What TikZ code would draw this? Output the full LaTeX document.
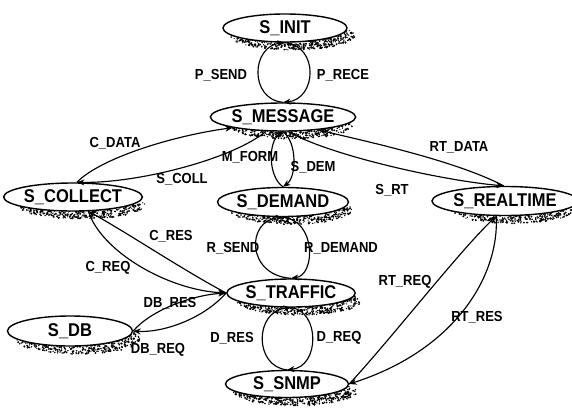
\documentclass[tikz,border=0pt]{standalone}
\usepackage{fontspec}
\usepackage{graphicx}
\setmainfont{Liberation Sans}
\usetikzlibrary{arrows.meta,shapes.geometric}

% slightly tall lettering
\newcommand\tallbox[1]{\scalebox{1}[1.12]{#1}}

\tikzset{
  state/.style={ellipse, draw, line width=1.4pt, fill=white, inner sep=0pt,
    font=\fontsize{16.5}{18}\selectfont\bfseries},
  lbl/.style={font=\fontsize{13}{14}\selectfont\bfseries, inner sep=0pt},
  arr/.style={line width=1.15pt, -{Stealth[length=7.5pt,width=6pt]}},
}

% grainy drop shadow: centre x, centre y, x radius, y radius
\newcommand\grainshadow[4]{%
  \foreach \k in {1,...,900}{%
    \pgfmathsetmacro\ang{360*rnd}%
    \pgfmathsetmacro\rr{sqrt(rnd)}%
    \pgfmathsetmacro\dr{0.6+0.5*rnd}%
    \fill[black] ({#1+8+\rr*#3*cos(\ang)},{#2+8+\rr*#4*sin(\ang)}) circle[radius=\dr];
  }%
}

\begin{document}
\begin{tikzpicture}[x=1pt,y=-1pt]
\useasboundingbox (0,0) rectangle (572,412);
\pgfmathsetseed{7}

% shadows
\grainshadow{285}{28}{62}{14}
\grainshadow{283}{117}{61.5}{14}
\grainshadow{73}{197}{63.5}{14}
\grainshadow{283}{202}{60.5}{14.5}
\grainshadow{505}{201}{61.5}{14.5}
\grainshadow{291}{293}{62}{14}
\grainshadow{70}{331}{62.5}{15}
\grainshadow{287}{384}{61.5}{13.5}

% states
\node[state, minimum width=124pt, minimum height=28pt] (init)     at (285,28)  {\tallbox{S\_INIT}};
\node[state, minimum width=123pt, minimum height=28pt] (msg)      at (283,117) {\tallbox{S\_MESSAGE}};
\node[state, minimum width=127pt, minimum height=28pt] (collect)  at (73,197)  {\tallbox{S\_COLLECT}};
\node[state, minimum width=121pt, minimum height=29pt] (demand)   at (283,202) {\tallbox{S\_DEMAND}};
\node[state, minimum width=123pt, minimum height=29pt] (realtime) at (505,201) {\tallbox{S\_REALTIME}};
\node[state, minimum width=124pt, minimum height=28pt] (traffic)  at (291,293) {\tallbox{S\_TRAFFIC}};
\node[state, minimum width=125pt, minimum height=30pt] (db)       at (70,331)  {\tallbox{S\_DB}};
\node[state, minimum width=123pt, minimum height=27pt] (snmp)     at (287,384) {\tallbox{S\_SNMP}};

% S_INIT <-> S_MESSAGE
\draw[arr] (init.south) .. controls +(34,3) and +(34,-3) .. (msg.north);
\draw[arr] (msg.north) .. controls +(-34,-3) and +(-34,3) .. (init.south);

% S_MESSAGE <-> S_DEMAND
\draw[arr] (msg.south) .. controls +(14,10) and +(14,-10) .. (demand.north);
\draw[arr] (demand.north) .. controls +(-15,-10) and +(-15,10) .. (msg.south);

% S_DEMAND <-> S_TRAFFIC
\draw[arr] (demand.south) .. controls +(33,3) and +(25,-3) .. (traffic.north);
\draw[arr] (traffic.north) .. controls +(-45,-3) and +(-37,3) .. (demand.south);

% S_TRAFFIC <-> S_SNMP
\draw[arr] (traffic.south) .. controls +(29,3) and +(33,-3) .. (snmp.north);
\draw[arr] (snmp.north) .. controls +(-33,-3) and +(-37,3) .. (traffic.south);

% S_MESSAGE <-> S_COLLECT
\draw[arr] (msg.220) .. controls +(-32,27) and +(63,1) .. (collect.75);
\draw[arr] (collect.75) .. controls +(23,-24) and +(-60,8) .. (msg.192);

% S_MESSAGE <-> S_REALTIME
\draw[arr] (msg.290) .. controls +(42,24) and +(-60,-5) .. (realtime.95);
\draw[arr] (realtime.95) .. controls +(-50,-26) and +(45,11) .. (msg.340);

% S_COLLECT <-> S_TRAFFIC
\draw[arr] (collect.317) .. controls +(13,40) and +(-59,-3) .. (traffic.west);
\draw[arr] (traffic.west) .. controls +(-45,-24) and +(40,22) .. (collect.317);

% S_TRAFFIC <-> S_DB
\draw[arr] (db.east) .. controls +(18,-21) and +(-34,2) .. (traffic.west);
\draw[arr] (traffic.west) .. controls +(-24,27) and +(28,2) .. (db.east);

% S_REALTIME <-> S_SNMP
\draw[arr] (realtime.240) .. controls +(3,60) and +(106,-34) .. (snmp.east);
\draw[arr] (snmp.east) .. controls +(41,-44) and +(-37,35) .. (realtime.240);

% transition labels
\node[lbl] (lpsend)   at (221,75)  {\tallbox{P\_SEND}};
\node[lbl] (lprece)   at (343,75)  {\tallbox{P\_RECE}};
\node[lbl] (lcdata)   at (115,143) {\tallbox{C\_DATA}};
\node[lbl] (lscoll)   at (182,179) {\tallbox{S\_COLL}};
\node[lbl] (lmform)   at (250,157) {\tallbox{M\_FORM}};
\node[lbl] (lsdem)    at (313,167) {\tallbox{S\_DEM}};
\node[lbl] (lrtdata)  at (459,147) {\tallbox{RT\_DATA}};
\node[lbl] (lsrt)     at (392,190) {\tallbox{S\_RT}};
\node[lbl] (lcres)    at (171,236) {\tallbox{C\_RES}};
\node[lbl] (lcreq)    at (108,268) {\tallbox{C\_REQ}};
\node[lbl] (lrsend)   at (233,248) {\tallbox{R\_SEND}};
\node[lbl] (lrdemand) at (341,248) {\tallbox{R\_DEMAND}};
\node[lbl] (ldbres)   at (170,303) {\tallbox{DB\_RES}};
\node[lbl] (ldbreq)   at (158,350) {\tallbox{DB\_REQ}};
\node[lbl] (ldres)    at (232,338) {\tallbox{D\_RES}};
\node[lbl] (ldreq)    at (339,338) {\tallbox{D\_REQ}};
\node[lbl] (lrtreq)   at (405,282) {\tallbox{RT\_REQ}};
\node[lbl] (lrtres)   at (477,317) {\tallbox{RT\_RES}};
\end{tikzpicture}
\end{document}
